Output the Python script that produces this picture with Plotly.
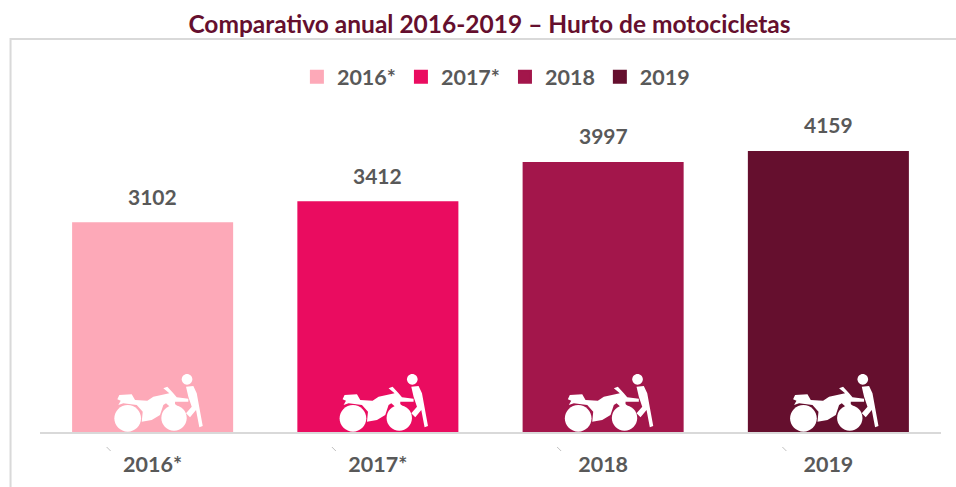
import plotly.graph_objects as go

categories = ["2016*", "2017*", "2018", "2019"]
values = [3102, 3412, 3997, 4159]
colors = ["#FDA9B8", "#EA0C60", "#A3164B", "#650F2E"]
title = "Comparativo anual 2016-2019 – Hurto de motocicletas"
FONT = "Lato, 'Open Sans', sans-serif"

fig = go.Figure()
for c, v, col in zip(categories, values, colors):
    fig.add_trace(go.Bar(x=[c], y=[v], name=c, marker=dict(color=col, line=dict(width=2, color=col))))


def poly(points):
    # outline given in a 3x sketch grid, converted to pixels from bar centre / baseline
    pts = [(x / 3 - 92.6, 72 - y / 3) for x, y in points]
    return "M " + " L ".join(f"{a:.1f} {b:.1f}" for a, b in pts) + " Z"


def circle(cx, cy, r):
    cx, cy, r = cx / 3 - 92.6, 72 - cy / 3, r / 3
    return (f"M {cx - r:.1f} {cy:.1f} C {cx - r:.1f} {cy + r * .55:.1f} {cx - r * .55:.1f} {cy + r:.1f} {cx:.1f} {cy + r:.1f} "
            f"C {cx + r * .55:.1f} {cy + r:.1f} {cx + r:.1f} {cy + r * .55:.1f} {cx + r:.1f} {cy:.1f} "
            f"C {cx + r:.1f} {cy - r * .55:.1f} {cx + r * .55:.1f} {cy - r:.1f} {cx:.1f} {cy - r:.1f} "
            f"C {cx - r * .55:.1f} {cy - r:.1f} {cx - r:.1f} {cy - r * .55:.1f} {cx - r:.1f} {cy:.1f} Z")


ICON_PATHS = [
    circle(203, 175, 40),
    circle(342, 174, 38),
    circle(381, 58, 16),
    poly([(172, 118), (178, 105), (215, 103), (225, 120), (262, 122), (280, 110), (328, 100), (310, 85), (322, 80),
          (340, 100), (350, 112), (385, 116), (385, 125), (345, 125), (345, 132), (378, 165), (365, 172), (318, 130),
          (310, 135), (300, 165), (275, 180), (245, 185), (248, 155), (230, 135), (190, 130), (175, 135), (182, 122)]),
    poly([(378, 80), (400, 78), (410, 100), (428, 198), (418, 202), (408, 150), (390, 172), (378, 160), (395, 140),
          (385, 110)]),
]

shapes = []
annotations = []
for i, (c, v) in enumerate(zip(categories, values)):
    for p in ICON_PATHS:
        shapes.append(dict(type="path", path=p, xref="x", yref="y", xsizemode="pixel", ysizemode="pixel",
                           xanchor=i, yanchor=0, fillcolor="white", line=dict(width=0), layer="above"))
    shapes.append(dict(type="path", path="M -46 -15 L -42 -19", xref="x", yref="paper", xsizemode="pixel",
                       ysizemode="pixel", xanchor=i, yanchor=0, line=dict(color="#BFBFBF", width=1)))
    annotations.append(dict(x=i, y=v, text=f"<b>{v}</b>", showarrow=False, yanchor="middle", yshift=27,
                            font=dict(family=FONT, size=21, color="#595959")))
# outer frame
shapes.append(dict(type="rect", xref="paper", yref="paper", x0=-0.0327, x1=1.03, y0=-0.2, y1=1.0,
                   line=dict(color="#D9D9D9", width=2), layer="below"))

fig.update_layout(
    width=956, height=487, autosize=False, paper_bgcolor="white", plot_bgcolor="white",
    margin=dict(l=40, r=15, t=39, b=55, autoexpand=False), barmode="overlay", bargap=0.294,
    showlegend=True,
    title=dict(text=f"<b>{title}</b>", x=0.512, xanchor="center", y=0.949, yanchor="middle",
               font=dict(family=FONT, size=24.5, color="#650F2E")),
    legend=dict(orientation="h", x=0.506, xanchor="center", y=0.904, yanchor="middle", itemsizing="constant",
                font=dict(family=FONT, size=21.5, color="#595959", weight="bold"), traceorder="normal",
                bgcolor="rgba(0,0,0,0)"),
    xaxis=dict(type="category", categoryorder="array", categoryarray=categories, range=[-0.5, 3.5],
               showgrid=False, zeroline=False, showline=True, linecolor="#D9D9D9", linewidth=2, ticks="",
               ticklabelstandoff=12, automargin=False,
               tickfont=dict(family=FONT, size=21.5, color="#595959", weight="bold")),
    yaxis=dict(range=[0, 5837], visible=False, fixedrange=True),
    shapes=shapes,
    annotations=annotations,
)
fig.write_html("out.html", post_script="document.body.style.margin='0';", config=dict(displayModeBar=False))
